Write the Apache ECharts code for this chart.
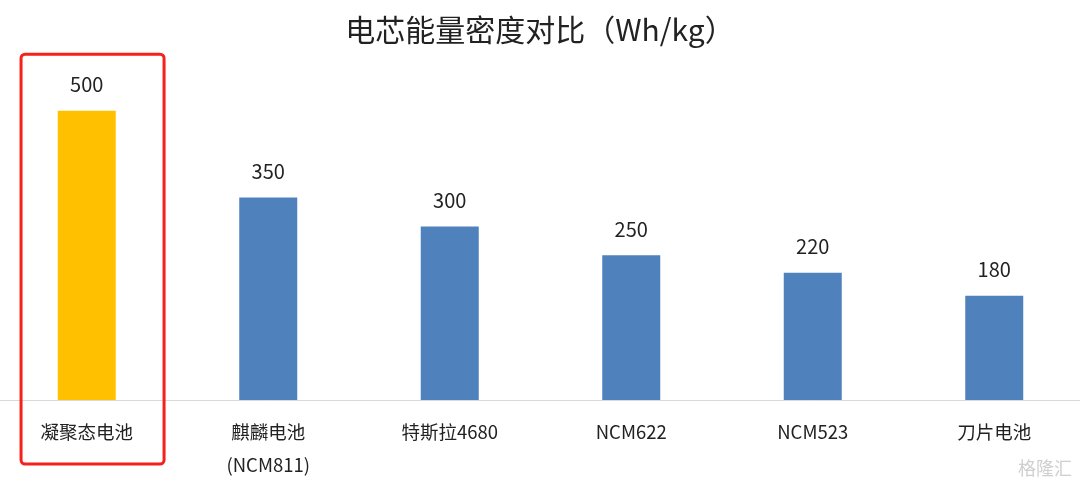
<!DOCTYPE html>
<html>
<head>
<meta charset="utf-8">
<script src="https://cdn.jsdelivr.net/npm/echarts@6/dist/echarts.min.js"></script>
<style>
  html, body { margin: 0; padding: 0; background: #fff; }
  #main { width: 1080px; height: 485px; }
</style>
</head>
<body>
<div id="main"></div>
<script>
// 电芯能量密度 (Wh/kg)
var categories = ['凝聚态电池', '麒麟电池\n(NCM811)', '特斯拉4680', 'NCM622', 'NCM523', '刀片电池'];
var density = [500, 350, 300, 250, 220, 180];
var highlightIndex = 0;

var font = '"Noto Sans CJK SC", "Noto Sans", sans-serif';

var chart = echarts.init(document.getElementById('main'), null, { renderer: 'canvas' });

var option = {
  backgroundColor: '#fff',
  animation: false,
  title: {
    text: '电芯能量密度对比（Wh/kg）',
    left: 'center',
    top: 10,
    textStyle: {
      fontFamily: font,
      fontSize: 30,
      fontWeight: 'normal',
      color: '#222'
    }
  },
  grid: {
    left: -4,
    right: -5,
    top: 110.7,
    bottom: 85,
    containLabel: false,
    outerBoundsMode: 'none'
  },
  xAxis: {
    type: 'category',
    data: categories,
    axisLine: { lineStyle: { color: '#d9d9d9', width: 1 } },
    axisTick: { show: false },
    axisLabel: {
      interval: 0,
      margin: 15,
      fontFamily: font,
      fontSize: 18.5,
      lineHeight: 33,
      color: '#222'
    }
  },
  yAxis: {
    type: 'value',
    min: 0,
    max: 500,
    show: false,
    splitLine: { show: false }
  },
  series: [{
    type: 'bar',
    barWidth: 58,
    data: density.map(function (v, i) {
      return {
        value: v,
        itemStyle: { color: i === highlightIndex ? '#FFC000' : '#4F81BD' }
      };
    }),
    label: {
      show: true,
      position: 'top',
      distance: 16,
      fontFamily: font,
      fontSize: 20,
      color: '#222'
    }
  }]
};
chart.setOption(option);

// red frame around the highlighted category, placed from the axis scale
var cx = chart.convertToPixel({ xAxisIndex: 0 }, categories[highlightIndex]);
var cx2 = chart.convertToPixel({ xAxisIndex: 0 }, categories[highlightIndex + 1]);
var band = cx2 - cx;
var yTop = chart.convertToPixel({ yAxisIndex: 0 }, density[highlightIndex]);
var yZero = chart.convertToPixel({ yAxisIndex: 0 }, 0);

chart.setOption({
  graphic: [{
    type: 'rect',
    shape: {
      x: cx - band * 0.362,
      y: yTop - 56.5,
      width: band * 0.788,
      height: (yZero - yTop) + 56.5 + 64,
      r: 4
    },
    style: { fill: 'none', stroke: '#F5211B', lineWidth: 3 },
    z: 100
  }, {
    type: 'text',
    right: 8,
    bottom: 8,
    style: {
      text: '格隆汇',
      fontFamily: font,
      fontSize: 18,
      fill: '#cfcfcf'
    },
    z: 100
  }]
});
</script>
</body>
</html>
